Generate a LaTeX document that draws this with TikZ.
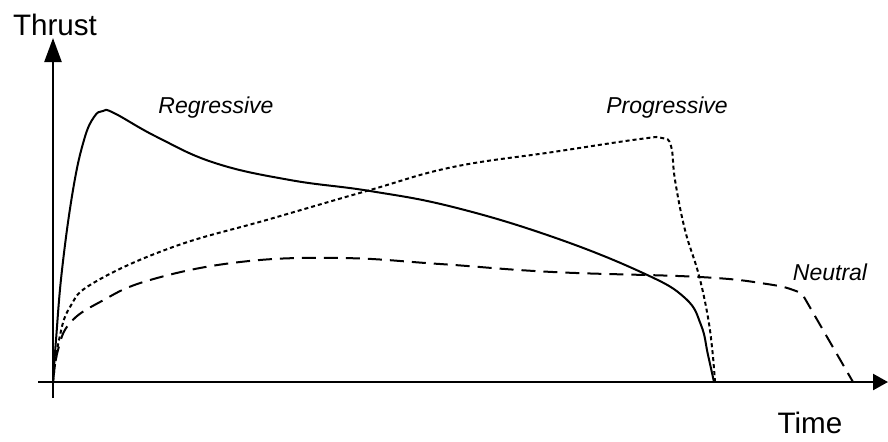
\documentclass[tikz,border=0pt]{standalone}
\usepackage{fontspec}
\setmainfont{Liberation Sans}
\usepackage{tikz}
\usetikzlibrary{arrows.meta}

\begin{document}
\begin{tikzpicture}[x=0.5pt,y=-0.5pt,
    axis/.style={line width=1.2pt},
    curve/.style={line width=1pt,smooth,tension=0.7},
    big/.style={font=\fontsize{14.8}{16}\selectfont,anchor=base},
    lbl/.style={font=\fontsize{11.5}{13}\selectfont\itshape,anchor=base}]
        \useasboundingbox (0,0) rectangle (888,441);
        % Axes
        \draw[axis,-{Triangle[length=12pt,width=8.5pt]}] (53,398) -- (53,38);
        \draw[axis,-{Triangle[length=7.5pt,width=8pt]}] (38,382) -- (888,382);
        % Labels
        \node[big] (thrust) at (55,35) {Thrust};
        \node[big] (time) at (810,433) {Time};
        \node[lbl] (reg) at (216,113) {Regressive};
        \node[lbl] (prog) at (667,113) {Progressive};
        \node[lbl] (neut) at (830,280) {Neutral};
        % Regressive
        \draw[curve] plot coordinates {(53,382) (56,340) (62,270) (73,190)
            (84,140) (94,117) (103,111) (114,113) (157,137) (215,163)
            (290,180) (370,191) (453,207) (553,237) (643,273) (685,298) (701,325)
            (708,355) (714,382)};
        % Progressive
        \draw[curve,dash pattern=on 2pt off 1.5pt] plot coordinates {(53,382)
            (59,340) (70,307) (95,282) (173,247) (270,219) (370,190) (453,167)
            (553,152) (640,139) (662,138) (671,146) (675,180) (685,230) (698,272)
            (707,312) (712,347) (715,382)};
        % Neutral
        \draw[curve,dash pattern=on 7pt off 4pt] plot coordinates {(53,382) (58,350)
            (70,323) (100,302) (150,280) (240,262) (340,258) (440,264) (553,272)
            (700,277) (767,284) (796,291) (804,297)} -- (853,382);
    \end{tikzpicture}
\end{document}
